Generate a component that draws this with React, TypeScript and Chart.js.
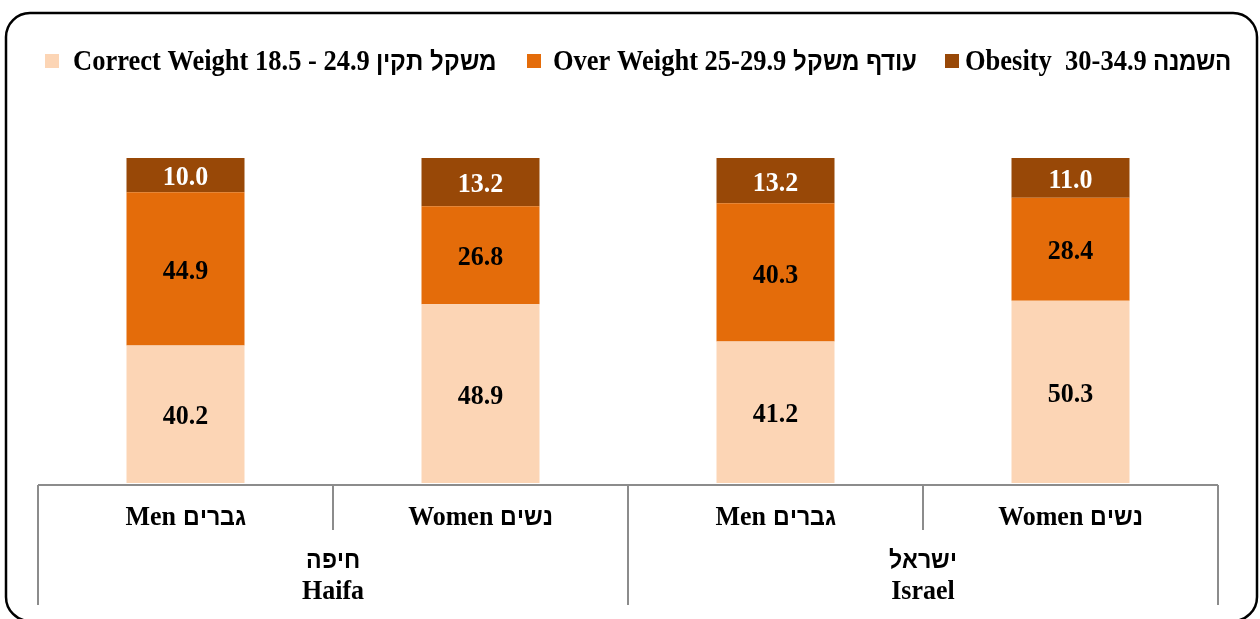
import React, { useEffect, useRef } from "react";
import { Chart, registerables } from "chart.js";

Chart.register(...registerables);

const categories = ["Men גברים", "Women נשים", "Men גברים", "Women נשים"];
const groupHebrew = ["חיפה", "ישראל"];
const groupEnglish = ["Haifa", "Israel"];
const seriesNames = [
  "Correct Weight 18.5 - 24.9 משקל תקין",
  "Over Weight 25-29.9 עודף משקל",
  "Obesity  30-34.9 השמנה",
];
const correctWeight = [40.2, 48.9, 41.2, 50.3];
const overWeight = [44.9, 26.8, 40.3, 28.4];
const obesity = [10.0, 13.2, 13.2, 11.0];
const seriesColors = ["#FCD5B5", "#E46C0A", "#984807"];
const labelColors = ["#000000", "#000000", "#FFFFFF"];

const FONT = "HebMix, 'Liberation Serif', 'Times New Roman', serif";
const SRC = "local('Liberation Sans Bold'), local('LiberationSans-Bold'), local('DejaVu Sans Bold'), local('DejaVuSans-Bold')";
const FONT_CSS = `
@font-face { font-family: 'HebMix'; src: ${SRC}; font-weight: bold; unicode-range: U+0590-05FF; size-adjust: 90%; }
@font-face { font-family: 'HebMix'; src: ${SRC}; font-weight: normal; unicode-range: U+0590-05FF; size-adjust: 90%; }
`;

function drawText(ctx: any, text: string, x: number, y: number, sy: number) {
  ctx.save();
  ctx.translate(x, y);
  ctx.scale(1, sy);
  ctx.fillText(text, 0, 0);
  ctx.restore();
}

export default function App() {
  const ref = useRef<HTMLCanvasElement>(null);
  useEffect(() => {
    let chart: any = null;
    let cancelled = false;
    const style = document.createElement("style");
    style.textContent = FONT_CSS;
    document.head.appendChild(style);
    document.body.style.margin = "0";

    const raw = [correctWeight, overWeight, obesity];
    const totals = categories.map((_, i) => raw.reduce((s, arr) => s + arr[i], 0));
    const plugin = {
      id: "custom",
      beforeDraw(c: any) {
        const ctx = c.ctx;
        ctx.save();
        ctx.fillStyle = "#fff";
        ctx.fillRect(0, 0, c.width, c.height);
        ctx.beginPath();
        ctx.roundRect(6, 13, 1251, 608, 24);
        ctx.lineWidth = 2.5;
        ctx.strokeStyle = "#000";
        ctx.stroke();
        ctx.restore();
      },
      afterDatasetsDraw(c: any) {
        const ctx = c.ctx;
        ctx.save();
        ctx.font = `bold 26px ${FONT}`;
        ctx.textAlign = "center";
        ctx.textBaseline = "middle";
        c.data.datasets.forEach((ds: any, di: number) => {
          const meta = c.getDatasetMeta(di);
          meta.data.forEach((bar: any, i: number) => {
            ctx.fillStyle = labelColors[di];
            drawText(ctx, raw[di][i].toFixed(1), bar.x, (bar.y + bar.base) / 2 + 3, 1.06);
          });
        });
        ctx.restore();
      },
      afterDraw(c: any) {
        const ctx = c.ctx;
        const xs = c.scales.x;
        const area = c.chartArea;
        const centers = categories.map((_, i) => xs.getPixelForValue(i));
        const step = centers[1] - centers[0];
        const axisY = area.bottom + 2;
        ctx.save();
        ctx.strokeStyle = "#8C8C8C";
        ctx.lineWidth = 2;
        ctx.beginPath();
        ctx.moveTo(centers[0] - step / 2, axisY);
        ctx.lineTo(centers[3] + step / 2, axisY);
        ctx.stroke();
        for (let i = 0; i <= categories.length; i++) {
          const x = centers[0] - step / 2 + i * step;
          const outer = i % 2 === 0;
          ctx.beginPath();
          ctx.moveTo(x, axisY);
          ctx.lineTo(x, outer ? 605 : 530);
          ctx.stroke();
        }
        ctx.fillStyle = "#000";
        ctx.textAlign = "center";
        ctx.textBaseline = "middle";
        ctx.font = `bold 26px ${FONT}`;
        centers.forEach((cx, i) => drawText(ctx, categories[i], cx, 518, 1.08));
        groupHebrew.forEach((g, gi) => {
          const cx = (centers[gi * 2] + centers[gi * 2 + 1]) / 2;
          drawText(ctx, g, cx, 561, 1.08);
          drawText(ctx, groupEnglish[gi], cx, 592, 1.08);
        });
        const boxX = [45, 527, 945];
        const textX = [73, 553, 965];
        ctx.textAlign = "left";
        ctx.font = `bold 26.5px ${FONT}`;
        seriesNames.forEach((n, i) => {
          ctx.fillStyle = seriesColors[i];
          ctx.fillRect(boxX[i], 54, 14, 14);
          ctx.fillStyle = "#000";
          drawText(ctx, n, textX[i], 63, 1.08);
        });
        ctx.restore();
      },
    };

    const build = () => {
      if (cancelled || !ref.current) return;
      chart = new Chart(ref.current, {
        type: "bar",
        data: {
          labels: categories,
          datasets: raw.map((arr, di) => ({
            label: seriesNames[di],
            data: arr.map((v, i) => (v / totals[i]) * 100),
            backgroundColor: seriesColors[di],
            borderWidth: 0,
          })),
        },
        options: {
          responsive: false,
          animation: false,
          layout: { padding: { left: 38, right: 42, top: 158, bottom: 136 } },
          plugins: { legend: { display: false }, tooltip: { enabled: false } },
          scales: {
            x: { stacked: true, display: false, offset: true },
            y: { stacked: true, display: false, min: 0, max: 100 },
          },
          datasets: { bar: { categoryPercentage: 1, barPercentage: 0.4 } },
        } as any,
        plugins: [plugin],
      });
    };

    const fontsReady = (document as any).fonts
      ? Promise.all([
          (document as any).fonts.load("bold 26px HebMix", "אבג"),
          (document as any).fonts.load("bold 26px 'Liberation Serif'", "Abc"),
        ]).catch(() => null)
      : Promise.resolve(null);
    fontsReady.then(build, build);

    return () => {
      cancelled = true;
      if (chart) chart.destroy();
      style.remove();
    };
  }, []);
  return (
    <div style={{ position: "fixed", left: 0, top: 0, width: 1260, height: 619, background: "#fff" }}>
      <canvas ref={ref} width={1260} height={619} />
    </div>
  );
}
